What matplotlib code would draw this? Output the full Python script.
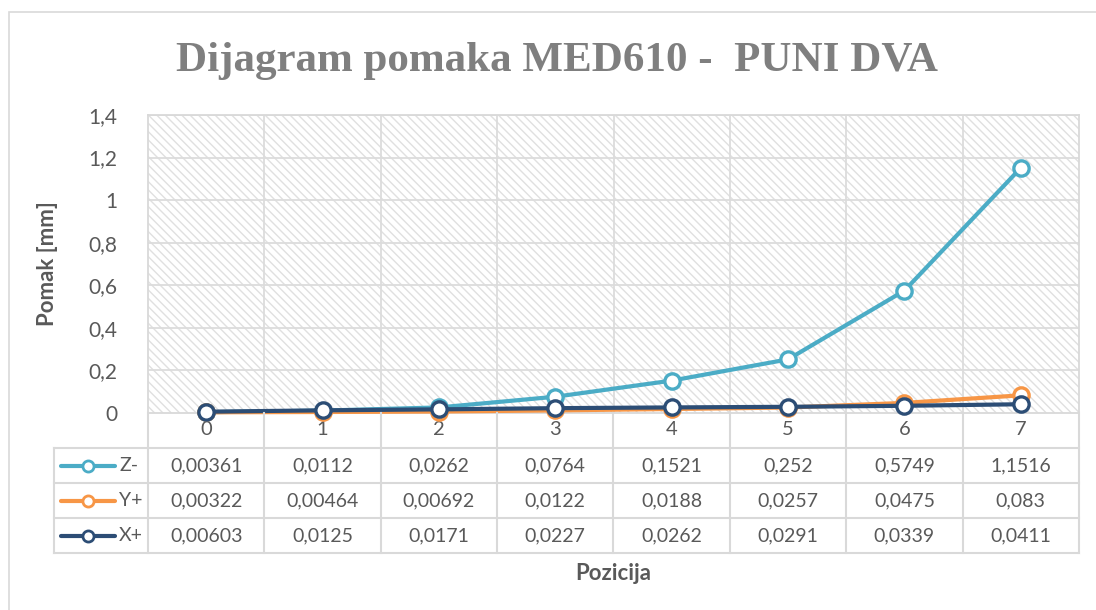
import matplotlib.pyplot as plt
from matplotlib.patches import Rectangle

plt.rcParams['font.family'] = ['Lato', 'DejaVu Sans']
plt.rcParams['hatch.linewidth'] = 1.0

positions = [0, 1, 2, 3, 4, 5, 6, 7]
z_minus = [0.00361, 0.0112, 0.0262, 0.0764, 0.1521, 0.252, 0.5749, 1.1516]
y_plus = [0.00322, 0.00464, 0.00692, 0.0122, 0.0188, 0.0257, 0.0475, 0.083]
x_plus = [0.00603, 0.0125, 0.0171, 0.0227, 0.0262, 0.0291, 0.0339, 0.0411]
z_labels = ['0,00361', '0,0112', '0,0262', '0,0764', '0,1521', '0,252', '0,5749', '1,1516']
y_labels = ['0,00322', '0,00464', '0,00692', '0,0122', '0,0188', '0,0257', '0,0475', '0,083']
x_labels = ['0,00603', '0,0125', '0,0171', '0,0227', '0,0262', '0,0291', '0,0339', '0,0411']
yticks = [0, 0.2, 0.4, 0.6, 0.8, 1.0, 1.2, 1.4]
ytick_labels = ['0', '0,2', '0,4', '0,6', '0,8', '1', '1,2', '1,4']

series = [
    ('Z-', z_minus, z_labels, '#4bacc6'),
    ('Y+', y_plus, y_labels, '#f79646'),
    ('X+', x_plus, x_labels, '#2c4d75'),
]

W, H = 1096, 610
fig = plt.figure(figsize=(W / 100, H / 100), dpi=100)

# outer chart border
fig.patches.append(Rectangle((9 / W, -0.1), 1.2, 1 - 12 / H + 0.1, transform=fig.transFigure,
                             fill=False, edgecolor='#d9d9d9', linewidth=1.2))

# plot area in pixels
L, R, T, B = 148, 1079, 115, 413
ax = fig.add_axes([L / W, 1 - B / H, (R - L) / W, (B - T) / H])
ax.set_xlim(-0.5, 7.5)
ax.set_ylim(0, 1.4)
ax.add_patch(Rectangle((0, 0), 1, 1, transform=ax.transAxes, facecolor='white',
                       edgecolor='#e0e0e0', hatch='\\\\\\\\', linewidth=0, zorder=0))

for v in [p + 0.5 for p in positions[:-1]]:
    ax.axvline(v, color='#dcdcdc', linewidth=1.3, zorder=1)
for v in yticks[1:]:
    ax.axhline(v, color='#dcdcdc', linewidth=1.3, zorder=1)
for s in ax.spines.values():
    s.set_color('#d9d9d9')
    s.set_linewidth(1.3)

ax.set_yticks(yticks)
ax.set_yticklabels(ytick_labels, fontsize=15, color='#595959')
ax.set_xticks(positions)
ax.set_xticklabels([str(p) for p in positions], fontsize=14.5, color='#595959')
ax.tick_params(length=0)
ax.tick_params(axis='y', pad=22)
ax.tick_params(axis='x', pad=6)

for name, vals, labs, col in series:
    ax.plot(positions, vals, color=col, linewidth=3, marker='o', markersize=11,
            markerfacecolor='white', markeredgecolor=col, markeredgewidth=2.4,
            zorder=3, clip_on=False)

ax.set_ylabel('Pomak [mm]', fontsize=16, fontweight='bold', color='#595959')
ax.yaxis.set_label_coords((58 - L) / (R - L), 0.5)

fig.text(0.508, 1 - 61 / H, 'Dijagram pomaka MED610 -  PUNI DVA', ha='center', va='center',
         fontsize=31, fontweight='bold', color='#7f7f7f', family=['Liberation Serif'])

# data table
TL, TB = 54, 553
tab = fig.add_axes([TL / W, 1 - TB / H, (R - TL) / W, (TB - B) / H])
px_per_unit = (R - L) / 8
lx = -0.5 - (L - TL) / px_per_unit
tab.set_xlim(lx, 7.5)
tab.set_ylim(0, 4)
tab.axis('off')
gc = '#d9d9d9'
for yy in [0, 1, 2, 3]:
    tab.plot([lx, 7.5], [yy, yy], color=gc, linewidth=1.5, clip_on=False)
for xx in [p - 0.5 for p in positions] + [7.5]:
    tab.plot([xx, xx], [0, 4], color=gc, linewidth=1.5, clip_on=False)
tab.plot([lx, lx], [0, 3], color=gc, linewidth=1.5, clip_on=False)

for i, (name, vals, labs, col) in enumerate(series):
    row = 2.5 - i
    tab.plot([lx + 0.06, lx + 0.52], [row, row], color=col, linewidth=3, solid_capstyle='round')
    tab.plot([lx + 0.29], [row], marker='o', markersize=8, markerfacecolor='white',
             markeredgecolor=col, markeredgewidth=2)
    tab.text(lx + 0.56, row, name, ha='left', va='center', fontsize=14, color='#595959')
    for p, t in zip(positions, labs):
        tab.text(p, row, t, ha='center', va='center', fontsize=14, color='#595959')

fig.text((L + R) / 2 / W, 1 - 573 / H, 'Pozicija', ha='center', va='center',
         fontsize=16, fontweight='bold', color='#595959')

fig.savefig('out.png', dpi=100)
